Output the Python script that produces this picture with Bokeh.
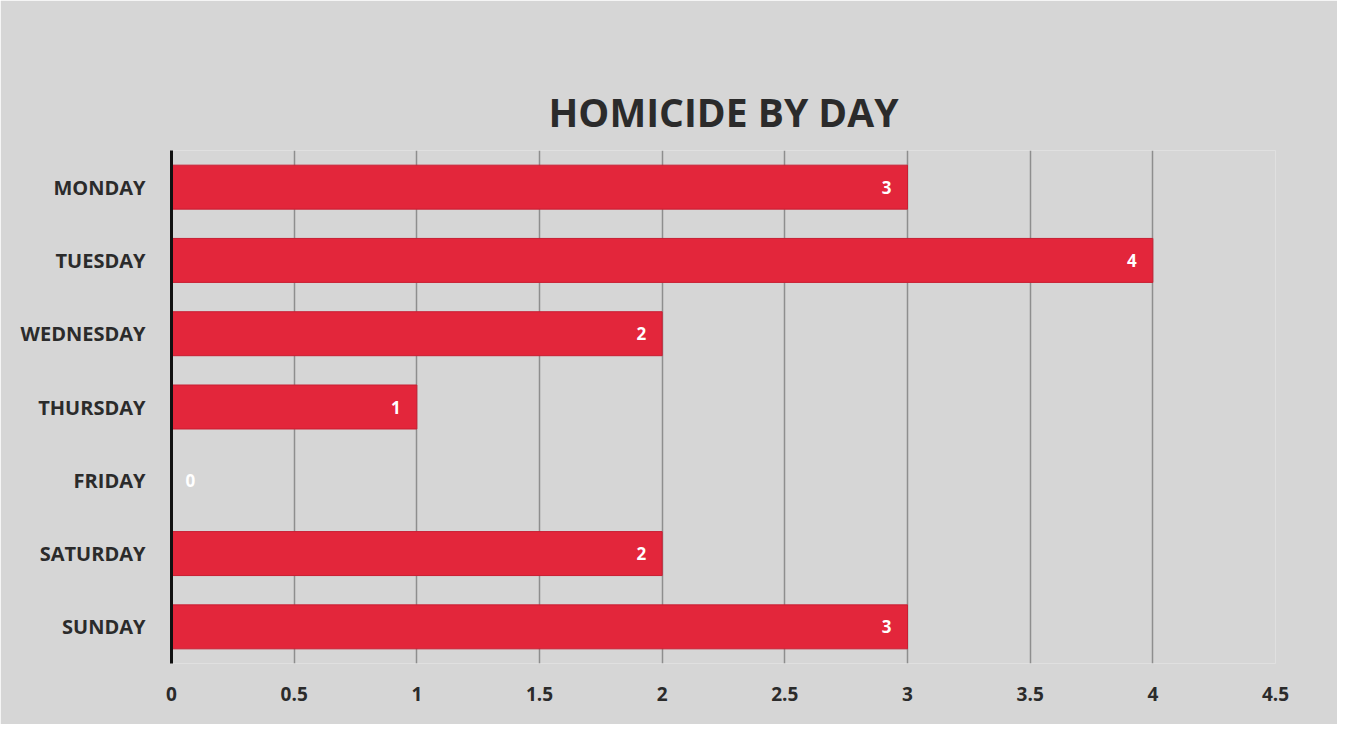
from bokeh.plotting import figure
from bokeh.models import ColumnDataSource, FixedTicker
from bokeh.core.properties import value
from bokeh.embed import file_html
from bokeh.resources import INLINE

days = ["MONDAY", "TUESDAY", "WEDNESDAY", "THURSDAY", "FRIDAY", "SATURDAY", "SUNDAY"]
counts = [3, 4, 2, 1, 0, 2, 3]
x_ticks = [0, 0.5, 1, 1.5, 2, 2.5, 3, 3.5, 4, 4.5]
x_tick_labels = ["0", "0.5", "1", "1.5", "2", "2.5", "3", "3.5", "4", "4.5"]

labels = [str(c) for c in counts]
aligns = ["right" if c > 0 else "left" for c in counts]
offsets = [-16 if c > 0 else 14 for c in counts]

src = ColumnDataSource(dict(day=days, count=counts, label=labels, align=aligns, off=offsets))

BG = "#d6d6d6"
p = figure(width=1337, height=724, y_range=list(reversed(days)), x_range=(0, 4.5),
           output_backend="svg", toolbar_location=None,
           min_border_left=171, min_border_right=62, min_border_top=150, min_border_bottom=61,
           background_fill_color=BG, border_fill_color=BG, outline_line_color=None)

p.hbar(y="day", right="count", left=0, height=0.6, source=src,
       fill_color="#e3263b", line_color="#c81e32", line_width=1)

p.text(x="count", y="day", text="label", source=src, text_align="align", x_offset="off",
       text_baseline="middle", text_color="white", text_font=value("Open Sans"),
       text_font_style="bold", text_font_size="17px")

p.title.text = "HOMICIDE BY DAY"
p.title.align = "center"
p.title.text_font = "Open Sans"
p.title.text_font_style = "bold"
p.title.text_font_size = "39px"
p.title.text_color = "#2b2b2b"
p.title.standoff = 25

p.xaxis.ticker = FixedTicker(ticks=x_ticks)
p.xaxis.major_label_overrides = {t: l for t, l in zip(x_ticks, x_tick_labels)}
p.xaxis.axis_line_color = None
p.xaxis.major_tick_line_color = None
p.xaxis.minor_tick_line_color = None
p.xaxis.major_label_standoff = 17
p.xaxis.major_label_text_font = "Open Sans"
p.xaxis.major_label_text_font_style = "bold"
p.xaxis.major_label_text_font_size = "19px"
p.xaxis.major_label_text_color = "#2b2b2b"

p.yaxis.axis_line_color = "#111111"
p.yaxis.axis_line_width = 3
p.yaxis.major_tick_line_color = None
p.yaxis.minor_tick_line_color = None
p.yaxis.major_label_standoff = 20
p.yaxis.major_label_text_font = "Open Sans"
p.yaxis.major_label_text_font_style = "bold"
p.yaxis.major_label_text_font_size = "20px"
p.yaxis.major_label_text_color = "#2b2b2b"

p.xgrid.grid_line_color = "#5e5e5e"
p.xgrid.grid_line_width = 1.5
p.xgrid.grid_line_alpha = 0.6
p.ygrid.grid_line_color = None

open("out.html", "w").write(file_html(p, INLINE))
